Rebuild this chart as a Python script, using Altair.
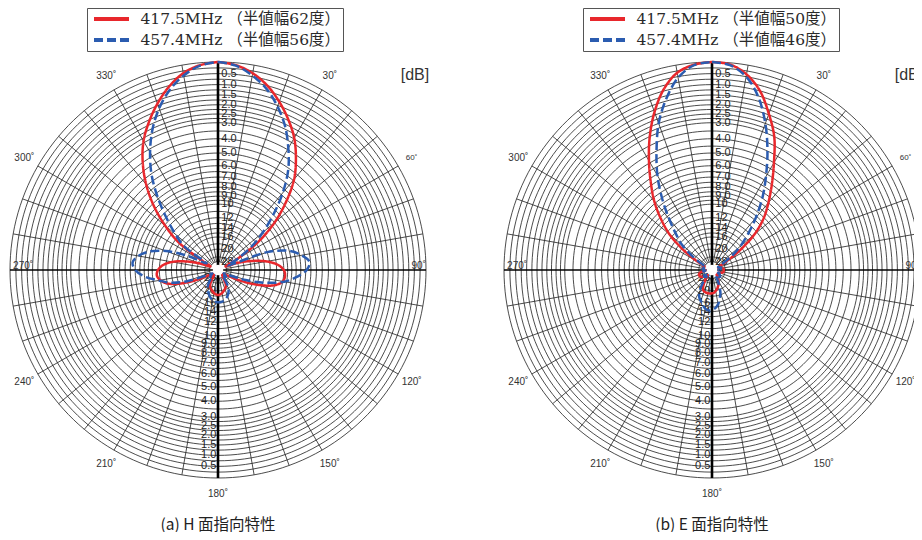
import math
import altair as alt
import pandas as pd

# ---------------- data ----------------
SERIES_H = ["417.5MHz （半値幅62度）", "457.4MHz （半値幅56度）"]
SERIES_E = ["417.5MHz （半値幅50度）", "457.4MHz （半値幅46度）"]
PANEL_TITLES = ["(a) H 面指向特性", "(b) E 面指向特性"]

ANGLES = list(range(0, 360, 5))

H_417 = [0, 0.1, 0.35, 0.75, 1.3, 1.95, 2.7, 3.7, 4.9, 6.7, 9.0, 12.5, 19, 28, 20, 15.5,
         12.5, 10.8, 10.0, 9.8, 10.0, 11.0, 13.5, 18, 25, 30, 30, 28, 30, 28, 23, 21,
         20.3, 19.6, 19, 18.6, 18.4, 18.6, 19, 19.6, 20.3, 21, 23, 28, 30, 28, 30, 30,
         26, 19, 14.5, 12, 11, 10.6, 10.8, 11.5, 13, 16, 21, 28, 22, 12.8, 9.6, 7.2,
         5.4, 4.0, 2.9, 2.1, 1.4, 0.8, 0.35, 0.1]
H_457 = [0, 0.12, 0.45, 0.9, 1.55, 2.35, 3.4, 4.6, 6.3, 8.5, 11.0, 14, 19, 26, 12, 9.0,
         7.8, 7.1, 7.4, 8.4, 9.8, 12.5, 17, 24, 30, 28, 26, 28, 30, 24, 20, 18.5,
         17.5, 16.8, 16.4, 16.2, 16.2, 16.3, 16.6, 17.2, 18, 19, 20, 22, 26, 28, 26, 28,
         30, 24, 16, 12.5, 10.8, 9.0, 8.0, 7.7, 8.2, 9.3, 11.5, 16, 24, 14, 11.5, 9.2,
         7.0, 5.1, 3.7, 2.55, 1.65, 0.95, 0.45, 0.12]
E_417 = [0, 0.07, 0.4, 1.0, 1.95, 3.0, 4.5, 6.0, 7.5, 9.1, 11.5, 16, 23, 28, 30, 28,
         26, 25, 25, 25, 25, 26, 28, 30, 30, 28, 28, 30, 28, 26, 24, 22.5,
         21.5, 20.5, 19.8, 19.2, 19, 18.9, 18.9, 19, 19.2, 19.8, 22, 26, 30, 28, 26, 25,
         24, 23.5, 23.5, 24, 26, 30, 30, 28, 27, 27, 28, 28, 22, 15.5, 11.5, 9.2,
         7.3, 5.8, 4.35, 3.0, 1.85, 0.93, 0.33, 0.08]
E_457 = [0, 0.1, 0.5, 1.3, 2.5, 4.0, 5.7, 7.5, 9.7, 12.2, 15, 19, 26, 30, 28, 27,
         27, 28, 30, 28, 27, 27, 28, 30, 28, 26.5, 26, 27, 30, 30, 26, 22,
         18.5, 17, 15.5, 14.7, 14.3, 14.2, 14.5, 15.2, 16, 16.8, 18.5, 22, 28, 27, 26, 27,
         30, 28, 27, 27, 28, 30, 28, 27, 27, 28, 30, 30, 26, 19, 14.5, 12.2,
         9.9, 7.6, 5.6, 4.0, 2.5, 1.4, 0.55, 0.1]

RING_DB = [0, 0.25, 0.5, 0.75, 1.0, 1.25, 1.5, 1.75, 2.0, 2.25, 2.5, 2.75, 3.0, 3.5,
           4.0, 4.5, 5.0, 5.5, 6.0, 6.5, 7.0, 7.5, 8.0, 8.5, 9.0, 9.5, 10, 11, 12, 13,
           14, 15, 16, 18, 20, 24, 28]
LABEL_DB = [0.5, 1.0, 1.5, 2.0, 2.5, 3.0, 4.0, 5.0, 6.0, 7.0, 8.0, 9.0, 10, 12, 14, 16, 20, 28]
LABEL_TXT = ["0.5", "1.0", "1.5", "2.0", "2.5", "3.0", "4.0", "5.0", "6.0", "7.0", "8.0",
             "9.0", "10", "12", "14", "16", "20", "28"]
ANGLE_TICKS = [0, 30, 60, 90, 120, 150, 180, 210, 240, 270, 300, 330]
SPOKE_ANGLES = [a for a in range(0, 360, 10) if a % 90 != 0]

# ---------------- layout / style ----------------
RED = "#e8272c"
BLUE = "#2b5cb0"
GRID = "#1e1e1e"
CENTERS = [0.0, 2.375]           # panel centres, in units of the outer radius
XDOM = [-210 / 208, 696 / 208]
YDOM = [-262 / 208, 262 / 208]
W, H = 906, 524
INNER_DB = 28


def rad(db):
    return 10 ** (-db / 20.0)


def xy(cx, ang, r):
    a = math.radians(ang)
    return cx + r * math.sin(a), r * math.cos(a)


X = alt.X("x:Q", scale=alt.Scale(domain=XDOM, nice=False, zero=False), axis=None)
Y = alt.Y("y:Q", scale=alt.Scale(domain=YDOM, nice=False, zero=False), axis=None)

# rings
rows = []
for p, cx in enumerate(CENTERS):
    for k, db in enumerate(RING_DB):
        for i, a in enumerate(range(0, 361, 2)):
            x, y = xy(cx, a, rad(db))
            rows.append({"g": f"{p}-{k}", "i": i, "x": x, "y": y})
rings = alt.Chart(pd.DataFrame(rows)).mark_line(stroke=GRID, strokeWidth=0.8).encode(
    x=X, y=Y, detail="g:N", order="i:Q")

# spokes
rows = []
for p, cx in enumerate(CENTERS):
    for a in SPOKE_ANGLES:
        for i, r in enumerate([rad(INNER_DB), 1.0]):
            x, y = xy(cx, a, r)
            rows.append({"g": f"{p}-{a}", "i": i, "x": x, "y": y})
spokes = alt.Chart(pd.DataFrame(rows)).mark_line(stroke=GRID, strokeWidth=0.8).encode(
    x=X, y=Y, detail="g:N", order="i:Q")

# main axes
rows_v, rows_h = [], []
for p, cx in enumerate(CENTERS):
    for i, a in enumerate([0, 180]):
        x, y = xy(cx, a, 1.0)
        rows_v.append({"g": p, "i": i, "x": x, "y": y})
    for i, a in enumerate([270, 90]):
        x, y = xy(cx, a, 1.0)
        rows_h.append({"g": p, "i": i, "x": x, "y": y})
vaxis = alt.Chart(pd.DataFrame(rows_v)).mark_line(stroke="#000", strokeWidth=2.6).encode(
    x=X, y=Y, detail="g:N", order="i:Q")
haxis = alt.Chart(pd.DataFrame(rows_h)).mark_line(stroke="#000", strokeWidth=1.3).encode(
    x=X, y=Y, detail="g:N", order="i:Q")

# radial labels
up, down = [], []
for cx in CENTERS:
    for db, t in zip(LABEL_DB, LABEL_TXT):
        up.append({"x": cx + 0.016, "y": rad(db), "t": t})
        down.append({"x": cx - 0.008, "y": -rad(db), "t": t})
lab_font = "Liberation Sans Narrow, Liberation Sans, Arial"
rlab_up = alt.Chart(pd.DataFrame(up)).mark_text(
    align="left", baseline="middle", font=lab_font, fontSize=11, color="#222").encode(
    x=X, y=Y, text="t:N")
rlab_dn = alt.Chart(pd.DataFrame(down)).mark_text(
    align="right", baseline="middle", font=lab_font, fontSize=11, color="#222").encode(
    x=X, y=Y, text="t:N")

# angle labels
rows = []
for cx in CENTERS:
    for a in ANGLE_TICKS:
        if a == 90:
            x, y, al = cx + 1.0, 0.018, "right"
        elif a == 270:
            x, y, al = cx - 0.985, 0.018, "left"
        else:
            x, y = xy(cx, a, 1.075)
            al = "center"
        rows.append({"x": x, "y": y, "t": f"{a}˚", "al": al, "fs": 8 if a == 60 else 10})
adf = pd.DataFrame(rows)
alabs = []
for al in ["left", "center", "right"]:
    alabs.append(alt.Chart(adf[adf.al == al]).mark_text(
        align=al, baseline="middle", font="Liberation Sans, Arial",
        color="#333").encode(x=X, y=Y, text="t:N", size=alt.Size("fs:Q", scale=None)))

# [dB] marks
dbl = alt.Chart(pd.DataFrame({"x": [c + 0.947 for c in CENTERS], "y": [0.9375, 0.9375],
                              "t": ["[dB]", "[dB]"]})).mark_text(
    align="center", baseline="middle", font="Liberation Sans, Arial", fontSize=16,
    color="#333").encode(x=X, y=Y, text="t:N")

# panel titles
ttl = alt.Chart(pd.DataFrame({"x": CENTERS, "y": [-1.228, -1.228], "t": PANEL_TITLES})).mark_text(
    align="center", baseline="middle", font="Noto Sans CJK JP", fontSize=15.5,
    color="#222").encode(x=X, y=Y, text="t:N")


def curves(cx, names, series, legend_x):
    rows = []
    for name, vals in zip(names, series):
        for i, (a, db) in enumerate(zip(ANGLES + [360], vals + [vals[0]])):
            x, y = xy(cx, a, rad(db))
            rows.append({"series": name, "i": i, "x": x, "y": y})
    leg = alt.Legend(title=None, orient="none", legendX=legend_x, legendY=0,
                     direction="vertical", strokeColor="#555", fillColor="white",
                     padding=2, rowPadding=3, labelFont="DejaVu Serif, Noto Sans CJK JP",
                     labelFontSize=15.5, labelColor="#2a2a2a", symbolType="M-2.5,0H2.5",
                     symbolSize=196, symbolStrokeWidth=4, symbolOffset=13.5, labelOffset=20,
                     labelLimit=400)
    return alt.Chart(pd.DataFrame(rows)).mark_line(strokeWidth=2.5, interpolate="catmull-rom").encode(
        x=X, y=Y, order="i:Q",
        color=alt.Color("series:N", scale=alt.Scale(domain=names, range=[RED, BLUE]), legend=leg),
        strokeDash=alt.StrokeDash("series:N", scale=alt.Scale(domain=names, range=[[1, 0], [9, 4]]),
                                  legend=leg),
    )


cur_h = curves(CENTERS[0], SERIES_H, [H_417, H_457], 79)
cur_e = curves(CENTERS[1], SERIES_E, [E_417, E_457], 575)

disk = alt.Chart(pd.DataFrame({"x": CENTERS, "y": [0, 0]})).mark_circle(
    size=110, color="white", opacity=1).encode(x=X, y=Y)

chart = alt.layer(rings, spokes, haxis, vaxis, rlab_up, rlab_dn, *alabs, dbl, ttl,
                  cur_h, cur_e, disk).resolve_scale(
    color="independent", strokeDash="independent").properties(
    width=W, height=H, padding=0, autosize=alt.AutoSizeParams(type="none")).configure_view(
    stroke=None)

chart.save("out.html", embed_options={"renderer": "svg", "actions": False})
